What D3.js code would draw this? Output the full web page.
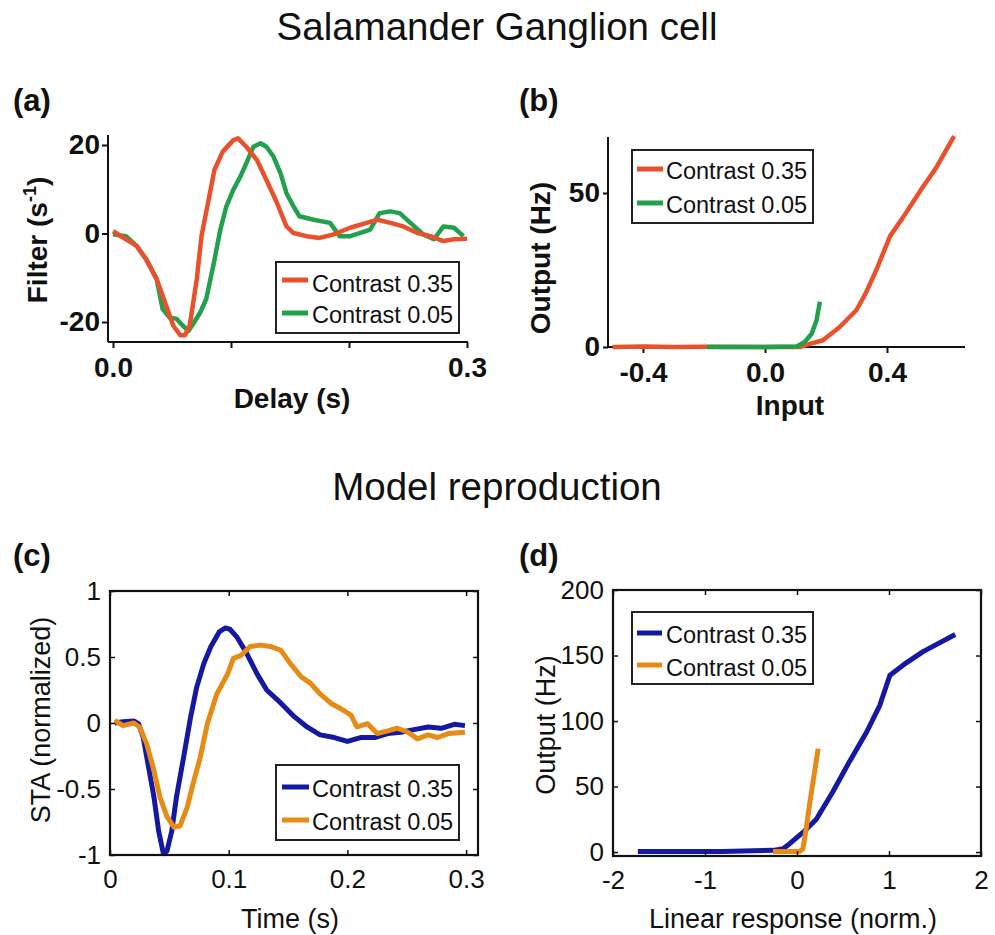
<!DOCTYPE html>
<html>
<head>
<meta charset="utf-8">
<script src="https://cdn.jsdelivr.net/npm/d3@7"></script>
<style>
  body { margin: 0; background: #fff; }
  svg { display: block; }
  text { font-family: "Liberation Sans", Arial, Helvetica, sans-serif; fill: #111; }
</style>
</head>
<body>
<svg id="chart" width="995" height="935"></svg>
<script>
// ---- data ----
// (a) temporal filter, salamander ganglion cell
const aDelay35 = [0, 0.011, 0.02, 0.028, 0.037, 0.045, 0.051, 0.057, 0.061, 0.065, 0.071, 0.075, 0.081, 0.086, 0.093, 0.102, 0.106, 0.113, 0.122, 0.130, 0.139, 0.147, 0.153, 0.164, 0.175, 0.187, 0.201, 0.215, 0.224, 0.235, 0.246, 0.258, 0.269, 0.280, 0.289, 0.3];
const aFilter35 = [0.5, -1.3, -2.8, -5.8, -10.3, -16.3, -20.8, -23, -23, -20.8, -10.3, -0.6, 7.6, 14.4, 18.5, 21.1, 21.5, 19.6, 16.6, 12.1, 6.9, 1.6, 0.1, -0.6, -1, -0.2, 1.3, 2.4, 3.1, 2.4, 1.6, 0.1, -0.6, -1.7, -1.3, -1.2];
const aDelay05 = [0, 0.011, 0.02, 0.028, 0.037, 0.042, 0.048, 0.054, 0.059, 0.064, 0.068, 0.074, 0.079, 0.085, 0.091, 0.096, 0.102, 0.108, 0.113, 0.119, 0.125, 0.130, 0.136, 0.142, 0.147, 0.153, 0.158, 0.170, 0.184, 0.192, 0.201, 0.209, 0.218, 0.226, 0.235, 0.243, 0.252, 0.263, 0.272, 0.280, 0.289, 0.297];
const aFilter05 = [-0.2, -0.6, -2.8, -5.8, -10.3, -17, -19, -19.3, -20.8, -22, -20.4, -17.8, -14.8, -7.3, 0.9, 6.1, 9.9, 12.9, 15.9, 19.6, 20.4, 19.6, 17.4, 13.6, 9.1, 6.1, 3.9, 3.1, 2.4, -0.6, -0.6, 0.1, 0.9, 4.6, 5.0, 4.6, 2.4, -0.2, -1.3, 1.6, 1.3, -0.6];

// (b) static nonlinearity, salamander ganglion cell
const bInput35 = [-0.5, -0.4, -0.3, -0.2, 0.0, 0.115, 0.147, 0.19, 0.245, 0.30, 0.33, 0.365, 0.41, 0.452, 0.518, 0.56, 0.62];
const bOutput35 = [0, 0.2, 0, 0.1, 0, 0, 1, 2.2, 6.5, 12, 17.4, 25, 36, 42, 52, 58, 68.5];
const bInput05 = [-0.19, 0.0, 0.104, 0.13, 0.153, 0.169, 0.18];
const bOutput05 = [0, 0, 0.2, 1.6, 4.3, 8.7, 14.7];

// (c) model STA
const cTime35 = [0.004, 0.011, 0.020, 0.024, 0.028, 0.032, 0.037, 0.041, 0.045, 0.048, 0.052, 0.056, 0.062, 0.068, 0.073, 0.079, 0.085, 0.092, 0.097, 0.101, 0.107, 0.115, 0.124, 0.132, 0.144, 0.155, 0.166, 0.177, 0.189, 0.2, 0.211, 0.223, 0.234, 0.245, 0.256, 0.268, 0.279, 0.290, 0.299];
const cSta35 = [0, 0.01, 0.015, -0.005, -0.11, -0.31, -0.56, -0.82, -0.99, -0.97, -0.82, -0.56, -0.26, 0.05, 0.27, 0.45, 0.58, 0.69, 0.72, 0.71, 0.65, 0.53, 0.37, 0.25, 0.15, 0.05, -0.03, -0.09, -0.11, -0.14, -0.11, -0.11, -0.08, -0.07, -0.05, -0.03, -0.04, -0.01, -0.02];
const cTime05 = [0.004, 0.011, 0.020, 0.025, 0.031, 0.037, 0.042, 0.048, 0.054, 0.059, 0.065, 0.070, 0.076, 0.082, 0.090, 0.099, 0.104, 0.110, 0.118, 0.127, 0.135, 0.144, 0.152, 0.161, 0.169, 0.177, 0.186, 0.194, 0.203, 0.208, 0.217, 0.225, 0.234, 0.242, 0.251, 0.259, 0.268, 0.276, 0.285, 0.299];
const cSta05 = [0.02, -0.02, 0, -0.03, -0.16, -0.36, -0.56, -0.71, -0.79, -0.78, -0.64, -0.46, -0.26, -0.005, 0.22, 0.37, 0.49, 0.51, 0.58, 0.59, 0.58, 0.55, 0.45, 0.35, 0.30, 0.22, 0.15, 0.11, 0.06, -0.03, -0.005, -0.08, -0.06, -0.04, -0.07, -0.12, -0.09, -0.11, -0.08, -0.07];

// (d) model nonlinearity
const dResp35 = [-1.73, -0.81, -0.26, -0.15, -0.08, 0.065, 0.21, 0.39, 0.57, 0.76, 0.90, 1.01, 1.16, 1.37, 1.72];
const dOut35 = [0.5, 0.5, 1.3, 2.5, 6.4, 15, 25, 46, 69, 92, 112, 135, 143, 153, 166];
const dResp05 = [-0.26, 0.03, 0.065, 0.10, 0.14, 0.23];
const dOut05 = [0.5, 0.5, 2.5, 18, 38, 79];

const legendLabels = ['Contrast 0.35', 'Contrast 0.05'];

const red = '#e9512c', green = '#22a04e', blue = '#1518a0', orange = '#e68b15';
const font = '"Liberation Sans", Arial, Helvetica, sans-serif';

const svg = d3.select('#chart');

function addLine(xs, ys, x, y, color, width) {
  const pts = xs.map((d, i) => [x(d), y(ys[i])]);
  svg.append('path')
    .attr('d', d3.line()(pts))
    .attr('fill', 'none')
    .attr('stroke', color)
    .attr('stroke-width', width)
    .attr('stroke-linejoin', 'round')
    .attr('stroke-linecap', 'butt');
}

function styleAxis(g, size, weight) {
  g.attr('font-family', font).attr('font-size', size).attr('font-weight', weight);
  g.selectAll('.tick line').attr('stroke', '#111').attr('stroke-width', 2);
  g.selectAll('text').attr('fill', '#111');
}

// legend: box [x, y, w, h], line ys, text baselines
function addLegend(box, lineYs, baseYs, lineX, textX, colors) {
  svg.append('rect')
    .attr('x', box[0]).attr('y', box[1]).attr('width', box[2]).attr('height', box[3])
    .attr('fill', '#fff').attr('stroke', '#222').attr('stroke-width', 2);
  legendLabels.forEach((label, i) => {
    svg.append('line')
      .attr('x1', lineX[0]).attr('x2', lineX[1])
      .attr('y1', lineYs[i]).attr('y2', lineYs[i])
      .attr('stroke', colors[i]).attr('stroke-width', 5);
    svg.append('text')
      .attr('x', textX).attr('y', baseYs[i])
      .attr('font-size', 23.5)
      .text(label);
  });
}

function rotatedLabel(x, y, size, weight) {
  return svg.append('text')
    .attr('transform', `translate(${x},${y}) rotate(-90)`)
    .attr('text-anchor', 'middle')
    .attr('font-size', size)
    .attr('font-weight', weight);
}

// ---- titles ----
svg.append('text').attr('x', 497).attr('y', 40).attr('text-anchor', 'middle')
  .attr('font-size', 38.5).text('Salamander Ganglion cell');
svg.append('text').attr('x', 497).attr('y', 500).attr('text-anchor', 'middle')
  .attr('font-size', 38.5).text('Model reproduction');

[['(a)', 13, 111], ['(b)', 519, 111], ['(c)', 13, 566], ['(d)', 519, 566]].forEach(p => {
  svg.append('text').attr('x', p[1]).attr('y', p[2])
    .attr('font-size', 31).attr('font-weight', 'bold').text(p[0]);
});

// ---- panel (a) ----
{
  const x = d3.scaleLinear().domain([0, 0.3]).range([113, 467]);
  const y = d3.scaleLinear().domain([-20, 20]).range([322, 145]);

  const xa = svg.append('g').attr('transform', 'translate(0,342)')
    .call(d3.axisBottom(x).tickValues([0, 0.1, 0.2, 0.3]).tickSize(6).tickPadding(9)
      .tickFormat(d => (d === 0 || d === 0.3) ? d.toFixed(1) : ''));
  xa.select('.domain').remove();
  styleAxis(xa, 28, 'bold');

  const ya = svg.append('g').attr('transform', 'translate(108,0)')
    .call(d3.axisLeft(y).tickValues([-20, 0, 20]).tickSize(6).tickPadding(2)
      .tickFormat(d => String(d)));
  ya.select('.domain').remove();
  styleAxis(ya, 28, 'bold');

  svg.append('line').attr('x1', 108).attr('x2', 468).attr('y1', 342).attr('y2', 342)
    .attr('stroke', '#111').attr('stroke-width', 2);
  svg.append('line').attr('x1', 108).attr('x2', 108).attr('y1', 135).attr('y2', 342)
    .attr('stroke', '#111').attr('stroke-width', 2);

  addLine(aDelay05, aFilter05, x, y, green, 4.5);
  addLine(aDelay35, aFilter35, x, y, red, 4.5);

  addLegend([276, 262, 183, 71], [280, 313], [292, 323], [282, 308], 312, [red, green]);

  svg.append('text').attr('x', 292).attr('y', 408).attr('text-anchor', 'middle')
    .attr('font-size', 28).attr('font-weight', 'bold').text('Delay (s)');
  const yl = rotatedLabel(47, 240, 28, 'bold');
  yl.append('tspan').text('Filter (s');
  yl.append('tspan').attr('font-size', 18).attr('dy', -11).text('-1');
  yl.append('tspan').attr('dy', 11).text(')');
}

// ---- panel (b) ----
{
  const x = d3.scaleLinear().domain([-0.4, 0.4]).range([643, 887]);
  const y = d3.scaleLinear().domain([0, 50]).range([347, 193]);

  const xa = svg.append('g').attr('transform', 'translate(0,347)')
    .call(d3.axisBottom(x).tickValues([-0.4, 0, 0.4]).tickSize(6).tickPadding(9)
      .tickFormat(d => d.toFixed(1)));
  xa.select('.domain').remove();
  styleAxis(xa, 28, 'bold');

  const ya = svg.append('g').attr('transform', 'translate(608,0)')
    .call(d3.axisLeft(y).tickValues([0, 50]).tickSize(5).tickPadding(3)
      .tickFormat(d => String(d)));
  ya.select('.domain').remove();
  styleAxis(ya, 28, 'bold');

  svg.append('line').attr('x1', 608).attr('x2', 965).attr('y1', 347).attr('y2', 347)
    .attr('stroke', '#111').attr('stroke-width', 2);
  svg.append('line').attr('x1', 608).attr('x2', 608).attr('y1', 137).attr('y2', 347)
    .attr('stroke', '#111').attr('stroke-width', 2);

  addLine(bInput35, bOutput35, x, y, red, 4.5);
  addLine(bInput05, bOutput05, x, y, green, 4.5);

  addLegend([632, 150, 181, 73], [169, 203], [179, 213], [637, 663], 666, [red, green]);

  svg.append('text').attr('x', 790).attr('y', 415).attr('text-anchor', 'middle')
    .attr('font-size', 28).attr('font-weight', 'bold').text('Input');
  rotatedLabel(550, 258, 28, 'bold').text('Output (Hz)');
}

// box axes with inward ticks, mirrored on top and right
function boxAxes(x, y, xTicks, yTicks, left, right, top, bottom) {
  const xa = svg.append('g').attr('transform', `translate(0,${bottom})`)
    .call(d3.axisBottom(x).tickValues(xTicks).tickSize(-5).tickPadding(15).tickFormat(d => String(d)));
  const xt = svg.append('g').attr('transform', `translate(0,${top})`)
    .call(d3.axisTop(x).tickValues(xTicks).tickSize(-5).tickFormat(''));
  const ya = svg.append('g').attr('transform', `translate(${left},0)`)
    .call(d3.axisLeft(y).tickValues(yTicks).tickSize(-5).tickPadding(9).tickFormat(d => String(d)));
  const yr = svg.append('g').attr('transform', `translate(${right},0)`)
    .call(d3.axisRight(y).tickValues(yTicks).tickSize(-5).tickFormat(''));
  [xa, xt, ya, yr].forEach(g => {
    g.select('.domain').remove();
    styleAxis(g, 26, 'normal');
    g.selectAll('.tick line').attr('stroke-width', 1.5);
  });
  svg.append('rect').attr('x', left).attr('y', top)
    .attr('width', right - left).attr('height', bottom - top)
    .attr('fill', 'none').attr('stroke', '#111').attr('stroke-width', 2.2);
}

// ---- panel (c) ----
{
  const x = d3.scaleLinear().domain([0, 0.31]).range([110, 478]);
  const y = d3.scaleLinear().domain([-1, 1]).range([855, 591]);

  addLine(cTime35, cSta35, x, y, blue, 5);
  addLine(cTime05, cSta05, x, y, orange, 5);
  boxAxes(x, y, [0, 0.1, 0.2, 0.3], [-1, -0.5, 0, 0.5, 1], 110, 478, 591, 855);

  addLegend([276, 765, 183, 75], [787, 820], [797, 830], [282, 309], 312, [blue, orange]);

  svg.append('text').attr('x', 290).attr('y', 928).attr('text-anchor', 'middle')
    .attr('font-size', 27).text('Time (s)');
  rotatedLabel(50, 720, 27, 'normal').text('STA (normalized)');
}

// ---- panel (d) ----
{
  const x = d3.scaleLinear().domain([-2, 2]).range([613, 981]);
  const y = d3.scaleLinear().domain([-3, 200]).range([856, 590]);

  addLine(dResp35, dOut35, x, y, blue, 5);
  addLine(dResp05, dOut05, x, y, orange, 5);
  boxAxes(x, y, [-2, -1, 0, 1, 2], [0, 50, 100, 150, 200], 613, 981, 590, 856);

  addLegend([632, 612, 181, 72], [633, 665], [643, 676], [637, 662], 666, [blue, orange]);

  svg.append('text').attr('x', 793).attr('y', 928).attr('text-anchor', 'middle')
    .attr('font-size', 27).text('Linear response (norm.)');
  rotatedLabel(555, 725, 27, 'normal').text('Output (Hz)');
}
</script>
</body>
</html>
